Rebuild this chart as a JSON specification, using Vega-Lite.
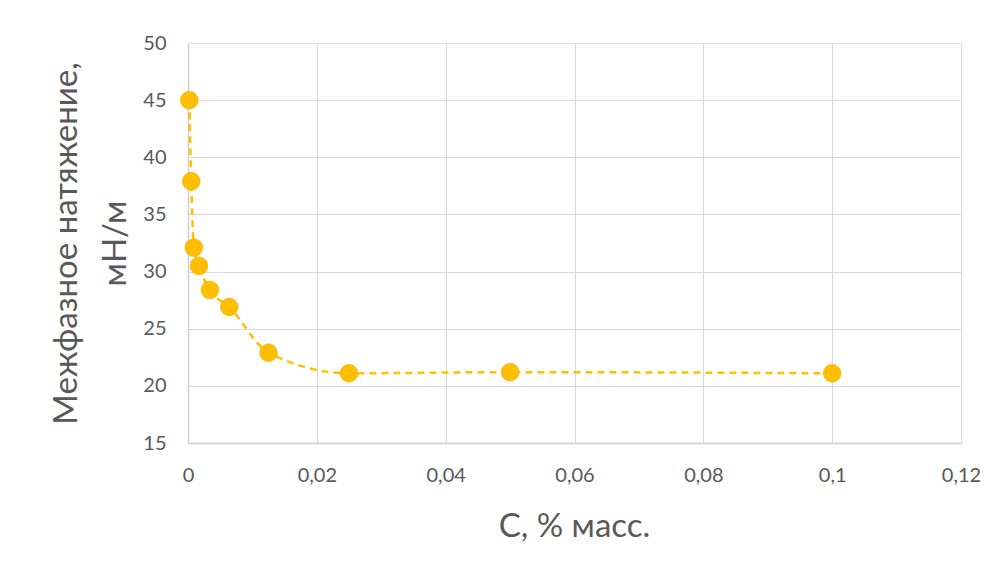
{
  "$schema": "https://vega.github.io/schema/vega-lite/v6.json",
  "width": 773,
  "height": 400,
  "autosize": {"type": "none"},
  "padding": {"left": 188, "top": 43, "right": 39, "bottom": 125},
  "background": "white",
  "config": {
    "view": {"stroke": null},
    "locale": {"number": {"decimal": ",", "thousands": " ", "grouping": [3], "currency": ["", ""]}},
    "font": "Lato",
    "axis": {
      "labelFont": "Lato",
      "titleFont": "Lato",
      "labelColor": "#595959",
      "titleColor": "#595959",
      "labelFontSize": 20,
      "titleFontSize": 33,
      "titleFontWeight": "normal",
      "gridColor": "#d9d9d9",
      "gridWidth": 1,
      "domainColor": "#d0d0d0",
      "domainWidth": 1.5,
      "ticks": false
    }
  },
  "data": {
    "values": [
      {"c": 0.0002, "sigma": 45.0},
      {"c": 0.0005, "sigma": 37.9},
      {"c": 0.0009, "sigma": 32.1},
      {"c": 0.0017, "sigma": 30.5},
      {"c": 0.0034, "sigma": 28.4},
      {"c": 0.0064, "sigma": 26.9},
      {"c": 0.0125, "sigma": 22.9},
      {"c": 0.025, "sigma": 21.1},
      {"c": 0.05, "sigma": 21.2},
      {"c": 0.1, "sigma": 21.1}
    ]
  },
  "encoding": {
    "x": {
      "field": "c",
      "type": "quantitative",
      "scale": {"domain": [0, 0.12], "nice": false, "zero": false},
      "axis": {
        "values": [0, 0.02, 0.04, 0.06, 0.08, 0.1, 0.12],
        "format": ".2~f",
        "labelPadding": 22,
        "labelFlush": false,
        "title": "С, % масс.",
        "titleX": 386,
        "titleY": 93,
        "titleAnchor": null,
        "titleAlign": "center",
        "titleBaseline": "alphabetic"
      }
    },
    "y": {
      "field": "sigma",
      "type": "quantitative",
      "scale": {"domain": [15, 50], "nice": false, "zero": false},
      "axis": {
        "values": [15, 20, 25, 30, 35, 40, 45, 50],
        "labelPadding": 22,
        "labelFlush": false,
        "title": ["Межфазное натяжение,", "мН/м"],
        "titleLineHeight": 49,
        "titleAngle": -90,
        "titleX": -138,
        "titleY": 200,
        "titleAlign": "center",
        "titleBaseline": "top"
      }
    }
  },
  "layer": [
    {
      "mark": {"type": "line", "color": "#FFC000", "strokeWidth": 2.5, "strokeDash": [7, 5], "interpolate": "monotone"}
    },
    {
      "mark": {"type": "point", "filled": true, "color": "#FFBF00", "opacity": 1, "size": 320, "shape": "circle", "stroke": "#E6AC00", "strokeWidth": 0.5}
    }
  ]
}
